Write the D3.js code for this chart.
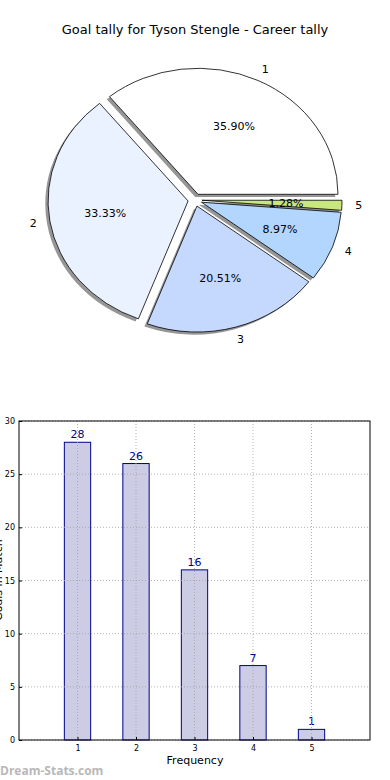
<!DOCTYPE html>
<html><head><meta charset="utf-8">
<script src="https://cdn.jsdelivr.net/npm/d3@7"></script>
<style>body{margin:0;background:#fff;} svg{display:block;font-family:"DejaVu Sans",sans-serif;}</style>
</head><body>
<script>
const title = "Goal tally for Tyson Stengle - Career tally";
const categories = ["1","2","3","4","5"];
const counts = [28, 26, 16, 7, 1];
const sliceColors = ["#ffffff","#ebf2ff","#c5d9ff","#b3d6ff","#c9e77f"];
const yTicks = [0,5,10,15,20,25,30];
const xLabel = "Frequency";
const yLabel = "Goals in Match";

const W = 390, H = 780;
const svg = d3.select("body").append("svg").attr("width", W).attr("height", H);

svg.append("text").attr("x", 195).attr("y", 34).attr("text-anchor","middle")
  .attr("font-size", 13).attr("fill","#000").text(title);

// ---- Pie ----
const cx = 195, cy = 200, rx = 140, ry = 126, explode = 0.05;
const total = d3.sum(counts);
const pie = d3.pie().sort(null).value(d => d)
  .startAngle(Math.PI/2).endAngle(Math.PI/2 - 2*Math.PI);
const arcs = pie(counts);
const arcGen = d3.arc().innerRadius(0).outerRadius(1);
const pieG = svg.append("g");
function midDir(a){
  const m = (a.startAngle + a.endAngle)/2;
  return [Math.sin(m), -Math.cos(m)];
}
arcs.forEach((a,i) => {
  const [dx, dy] = midDir(a);
  const ox = cx + explode*rx*dx, oy = cy + explode*ry*dy;
  pieG.append("path").attr("d", arcGen(a))
    .attr("transform", `translate(${ox-2.8},${oy+2.6}) scale(${rx},${ry})`)
    .attr("fill", "#404040").attr("fill-opacity", 0.55);
});
arcs.forEach((a,i) => {
  const [dx, dy] = midDir(a);
  const ox = cx + explode*rx*dx, oy = cy + explode*ry*dy;
  pieG.append("path").attr("d", arcGen(a))
    .attr("transform", `translate(${ox},${oy}) scale(${rx},${ry})`)
    .attr("fill", sliceColors[i]).attr("stroke","#000")
    .attr("vector-effect","non-scaling-stroke")
    .style("stroke-width", "0.8px");
  pieG.append("text").attr("x", ox + 1.12*rx*dx).attr("y", oy + 1.1*ry*dy)
    .attr("text-anchor","middle").attr("dominant-baseline","central")
    .attr("font-size", 11).text(categories[i]);
  pieG.append("text").attr("x", ox + 0.6*rx*dx).attr("y", oy + 0.6*ry*dy)
    .attr("text-anchor","middle").attr("dominant-baseline","central")
    .attr("font-size", 11).text((100*counts[i]/total).toFixed(2) + "%");
});

// ---- Bars ----
const L = 19, R = 370, T = 421, B = 740;
const x = d3.scaleLinear().domain([0,6]).range([L,R]);
const y = d3.scaleLinear().domain([0,30]).range([B,T]);
const barW = 0.45;
const g = svg.append("g");

categories.forEach((c,i) => {
  g.append("rect").attr("x", x(+c - barW/2)).attr("width", x(barW) - x(0))
    .attr("y", y(counts[i])).attr("height", y(0) - y(counts[i]))
    .attr("fill","#bfbfdf").attr("fill-opacity",0.8).attr("stroke","#00008b").attr("stroke-width",1);
  g.append("text").attr("x", x(+c)).attr("y", y(counts[i]) - 4)
    .attr("text-anchor","middle").attr("font-size",11).attr("fill","#00008b").text(counts[i]);
});
yTicks.forEach(t => g.append("line").attr("x1",L).attr("x2",R).attr("y1",y(t)).attr("y2",y(t))
  .attr("stroke","#a0a0a0").attr("stroke-opacity",0.8).attr("stroke-width",1).attr("stroke-dasharray","1,2"));
categories.forEach((c,i) => g.append("line").attr("x1",x(+c)).attr("x2",x(+c)).attr("y1",T).attr("y2",B)
  .attr("stroke","#a0a0a0").attr("stroke-opacity",0.8).attr("stroke-width",1).attr("stroke-dasharray","1,2"));

const yAxis = d3.axisLeft(y).tickValues(yTicks).tickFormat(d3.format("d")).tickSize(-3).tickPadding(4);
const xAxis = d3.axisBottom(x).tickValues(categories.map(Number)).tickFormat(d3.format("d")).tickSize(-3).tickPadding(5);
const ya = g.append("g").attr("transform",`translate(${L},0)`).call(yAxis);
const xa = g.append("g").attr("transform",`translate(0,${B})`).call(xAxis);
[ya, xa].forEach(a => { a.select(".domain").remove(); a.selectAll("text").attr("font-size",8).attr("font-family","DejaVu Sans"); a.selectAll("line").attr("stroke","#000"); });
g.append("rect").attr("x",L).attr("y",T).attr("width",R-L).attr("height",B-T)
  .attr("fill","none").attr("stroke","#000").attr("stroke-width",1);

svg.append("text").attr("x", 195).attr("y", 764).attr("text-anchor","middle")
  .attr("font-size", 11).text(xLabel);
svg.append("text").attr("transform","translate(2,580) rotate(-90)").attr("text-anchor","middle")
  .attr("font-size", 11).text(yLabel);
svg.append("text").attr("x", 0).attr("y", 775).attr("font-size", 12).attr("font-weight","bold")
  .attr("fill","#b8b8b8").attr("font-family","Open Sans, DejaVu Sans, sans-serif").text("Dream-Stats.com");
</script>
</body></html>
